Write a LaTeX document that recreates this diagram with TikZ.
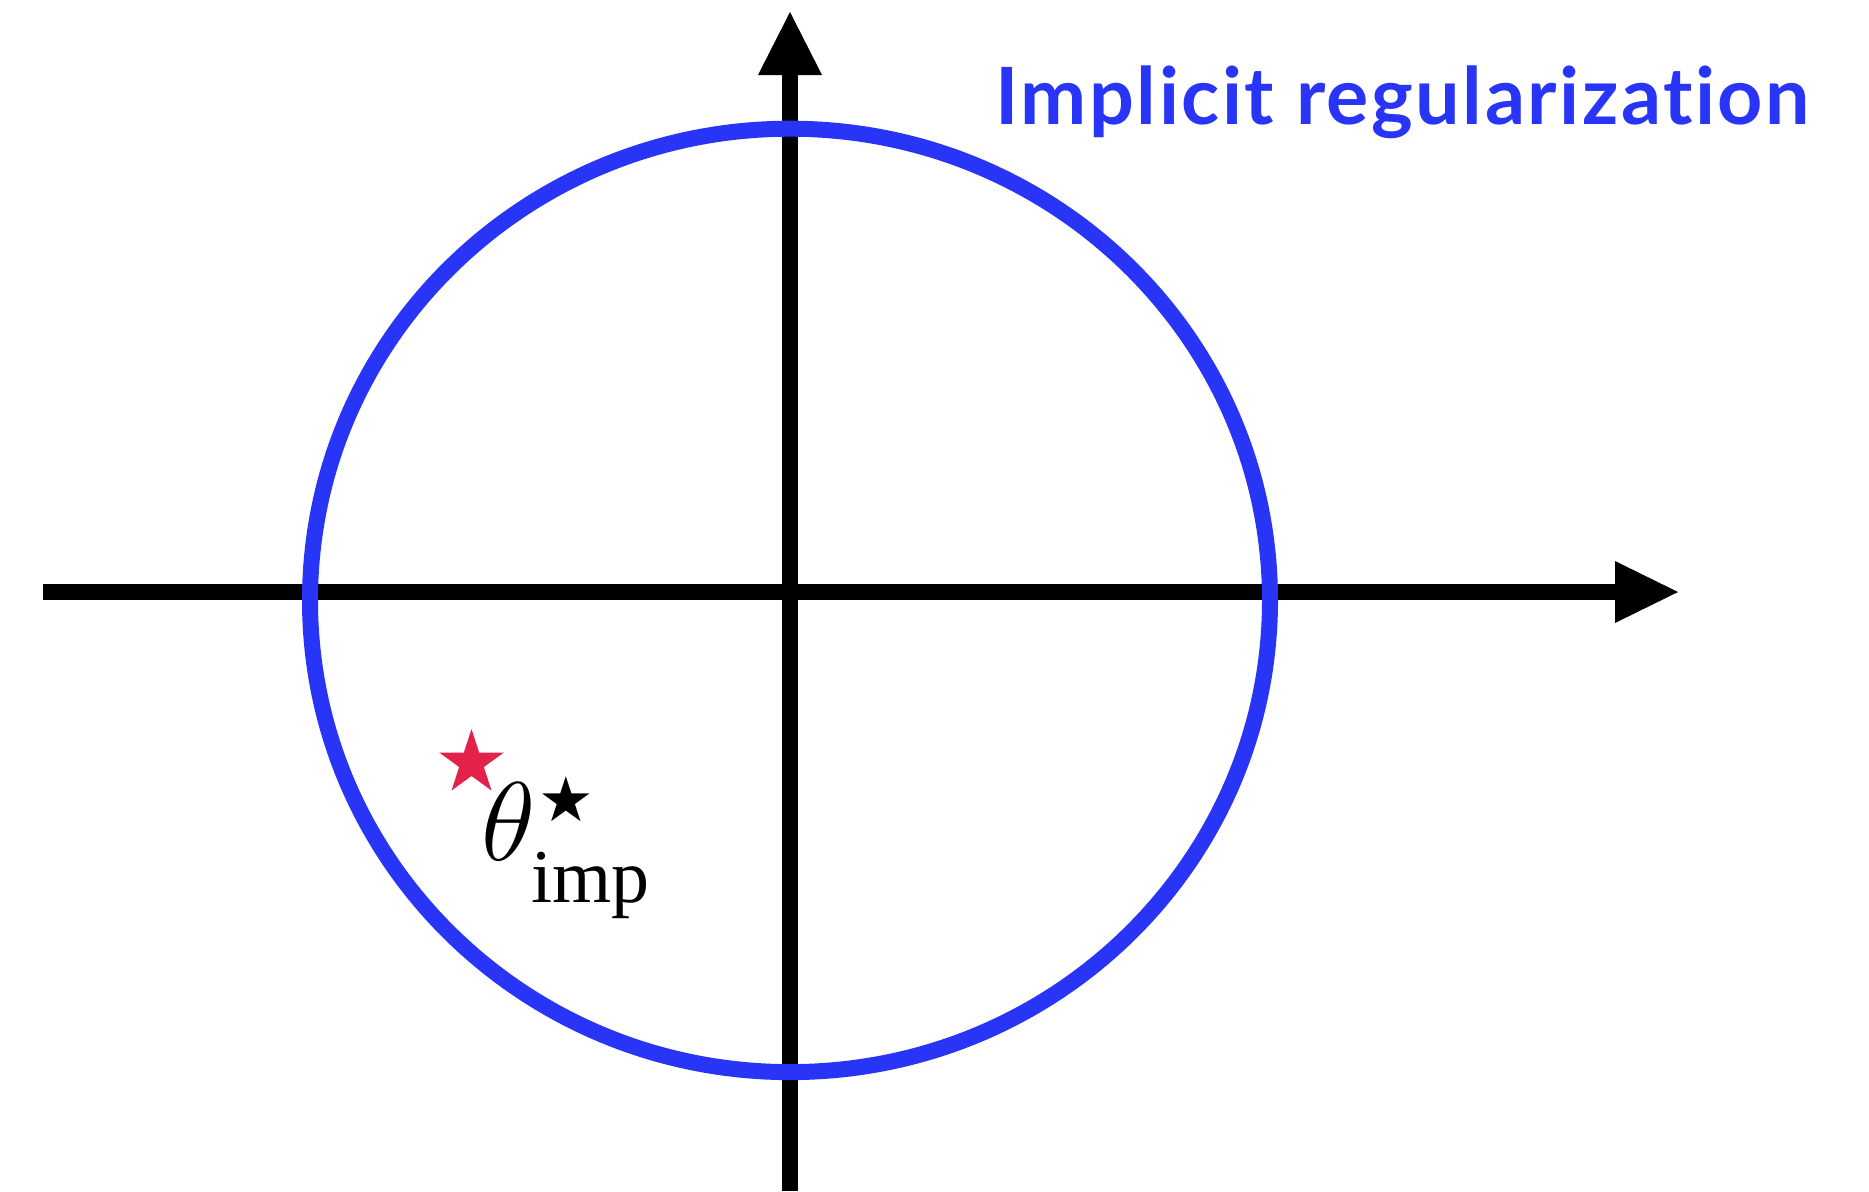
\RequirePackage{fix-cm}
\documentclass[tikz,border=0pt]{standalone}
\usepackage{fontspec}
\usetikzlibrary{calc}
\newfontfamily\titlefont{Lato}[Ligatures=NoCommon,LetterSpace=3.2]
\newfontfamily\labserif{Liberation Serif}
\newfontfamily\symfont{DejaVu Sans}
\definecolor{circblue}{RGB}{40,52,246}
\definecolor{starred}{RGB}{227,34,74}
\begin{document}
\begin{tikzpicture}[x=0.5pt,y=-0.5pt,
  axisline/.style={line width=8pt,black},
  axishead/.style={fill=black,draw=none},
  circline/.style={line width=8pt,draw=circblue},
  titletext/.style={text=circblue,font=\titlefont\bfseries\fontsize{39.5}{44}\selectfont,inner sep=0pt,anchor=base west},
  labeltext/.style={font=\labserif,inner sep=0pt,anchor=base west}]
\useasboundingbox (0,0) rectangle (1869,1191);
% axes
\coordinate (hstart) at (43,592);
\coordinate (hbase) at (1615,592);
\coordinate (vstart) at (790,1191);
\coordinate (vbase) at (790,75);
\draw[axisline] (hstart) -- (hbase);
\draw[axisline] (vstart) -- (vbase);
\fill[axishead] (1615,561) -- (1678,592) -- (1615,623) -- cycle;
\fill[axishead] (758,75) -- (790,12) -- (822,75) -- cycle;
% circle
\coordinate (ctr) at (790,600.4);
\draw[circline] (ctr) ellipse [x radius=480, y radius=471.7];
% red star
\coordinate (sc) at (471.5,763);
\fill[starred] ($(sc)+(90:-34)$)
  \foreach \k in {0,...,4} { -- ($(sc)+({126+72*\k}:-13)$) -- ($(sc)+({162+72*\k}:-34)$) } -- cycle;
% label
\node[labeltext] (lab) at (480,860) {%
  \rlap{\fontsize{56}{60}\selectfont$\theta$}%
  \rlap{\hspace{25pt}\raisebox{-21pt}{\fontsize{38}{40}\selectfont imp}}%
  \rlap{\hspace{42.5pt}\makebox[0pt]{\raisebox{\dimexpr30.5pt-0.5\height+0.5\depth\relax}{\symfont\fontsize{31}{32}\selectfont ★}}}%
  \hspace{82pt}};
% title
\node[titletext] (title) at (995,124) {Implicit regularization};
\end{tikzpicture}
\end{document}
